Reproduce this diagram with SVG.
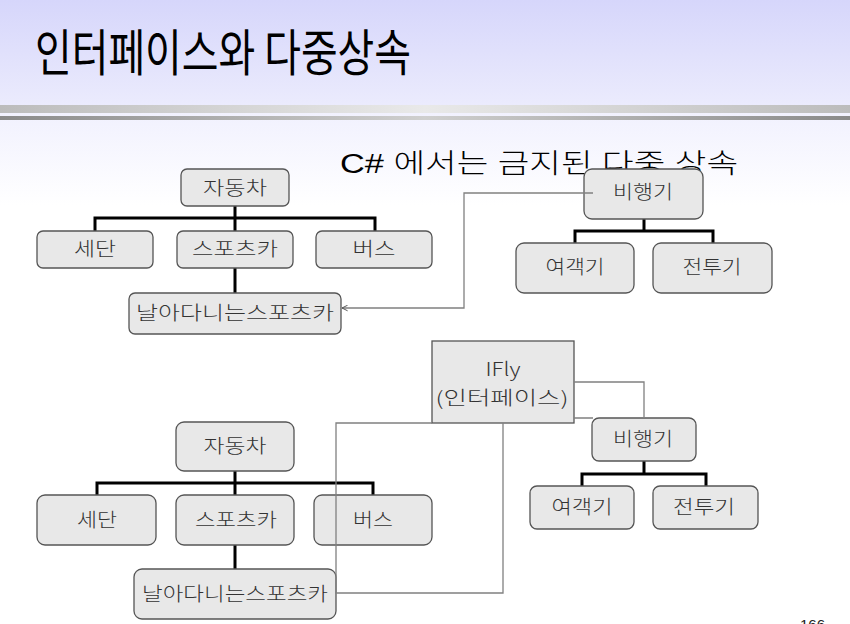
<svg xmlns="http://www.w3.org/2000/svg" width="850" height="624" viewBox="0 0 850 624">
<defs>
<linearGradient id="bgTop" x1="0" y1="0" x2="0" y2="1">
<stop offset="0" stop-color="#d6d6fb"/>
<stop offset="1" stop-color="#ebebfd"/>
</linearGradient>
<linearGradient id="bgLow" x1="0" y1="0" x2="0" y2="1">
<stop offset="0" stop-color="#f0f0fe"/>
<stop offset="1" stop-color="#ffffff"/>
</linearGradient>
<linearGradient id="bar1" x1="0" y1="0" x2="1" y2="0">
<stop offset="0" stop-color="#bcbcbc"/>
<stop offset="0.5" stop-color="#e9e9e9"/>
<stop offset="1" stop-color="#bcbcbc"/>
</linearGradient>
<linearGradient id="bar2" x1="0" y1="0" x2="1" y2="0">
<stop offset="0" stop-color="#8a8a8a"/>
<stop offset="0.5" stop-color="#cfcfcf"/>
<stop offset="1" stop-color="#8a8a8a"/>
</linearGradient>
<marker id="arr" viewBox="0 0 10 10" refX="9" refY="5" markerWidth="7" markerHeight="7" orient="auto" markerUnits="userSpaceOnUse">
<path d="M1 1 L9 5 L1 9" fill="none" stroke="#555" stroke-width="1.4"/>
</marker>
<style>
.box{fill:#e8e8e8;stroke:#555;stroke-width:1.3}
.lbl{font-family:"Noto Sans CJK KR","Noto Sans",sans-serif;font-size:19px;font-weight:300;fill:#333;text-anchor:middle}
.tree{fill:none;stroke:#000;stroke-width:3}
.thin{fill:none;stroke:#808080;stroke-width:1.3}
</style>
</defs>
<rect x="0" y="0" width="850" height="105" fill="url(#bgTop)"/>
<rect x="0" y="105" width="850" height="100" fill="url(#bgLow)"/>
<rect x="0" y="105" width="850" height="8" fill="url(#bar1)"/>
<rect x="0" y="116" width="850" height="4" fill="url(#bar2)"/>
<text x="35" y="71" font-family="'Noto Sans CJK KR','Noto Sans',sans-serif" font-size="50" fill="#000" textLength="376" lengthAdjust="spacingAndGlyphs">인터페이스와 다중상속</text>
<text x="340" y="173" font-family="'Liberation Sans','Noto Sans CJK KR',sans-serif" font-size="27" font-weight="300" fill="#000" textLength="398" lengthAdjust="spacingAndGlyphs">C# 에서는 금지된 다중 상속</text>
<text x="800" y="630" font-family="'Liberation Sans',sans-serif" font-size="15" fill="#222">166</text>

<g id="connectors">
<path class="tree" d="M235 206V218M95 231V218H375V231M235 218V231M235 268V293"/>
<path class="tree" d="M644 219V231M575 243V231H713V243"/>
<path class="tree" d="M235 471V483M97 495V483H373V495M235 483V495M235 545V569"/>
<path class="tree" d="M644 461V474M582 486V474H706V486"/>
</g>

<g id="top-car"><rect class="box" x="181" y="169" width="108" height="37" rx="6"/><text class="lbl" x="235" y="195" textLength="64" lengthAdjust="spacingAndGlyphs">자동차</text></g>
<g id="top-sedan"><rect class="box" x="37" y="231" width="116" height="37" rx="6"/><text class="lbl" x="95" y="256" textLength="42" lengthAdjust="spacingAndGlyphs">세단</text></g>
<g id="top-sports"><rect class="box" x="177" y="231" width="116" height="37" rx="6"/><text class="lbl" x="235" y="256" textLength="86" lengthAdjust="spacingAndGlyphs">스포츠카</text></g>
<g id="top-bus"><rect class="box" x="316" y="231" width="116" height="37" rx="6"/><text class="lbl" x="374" y="256" textLength="43" lengthAdjust="spacingAndGlyphs">버스</text></g>
<g id="top-flycar"><rect class="box" x="129" y="293" width="212" height="41" rx="6"/><text class="lbl" x="235" y="320" textLength="198" lengthAdjust="spacingAndGlyphs">날아다니는스포츠카</text></g>
<g id="top-plane"><rect class="box" x="584" y="169" width="119" height="50" rx="8"/><text class="lbl" x="643" y="199" textLength="60" lengthAdjust="spacingAndGlyphs">비행기</text></g>
<g id="top-passenger"><rect class="box" x="516" y="243" width="118" height="50" rx="8"/><text class="lbl" x="575" y="274" textLength="59" lengthAdjust="spacingAndGlyphs">여객기</text></g>
<g id="top-fighter"><rect class="box" x="653" y="243" width="119" height="50" rx="8"/><text class="lbl" x="712" y="274" textLength="59" lengthAdjust="spacingAndGlyphs">전투기</text></g>

<g id="bot-car"><rect class="box" x="176" y="422" width="118" height="49" rx="8"/><text class="lbl" x="235" y="453" textLength="63" lengthAdjust="spacingAndGlyphs">자동차</text></g>
<g id="bot-sedan"><rect class="box" x="37" y="495" width="119" height="50" rx="8"/><text class="lbl" x="97" y="527" textLength="40" lengthAdjust="spacingAndGlyphs">세단</text></g>
<g id="bot-sports"><rect class="box" x="176" y="495" width="118" height="50" rx="8"/><text class="lbl" x="236" y="527" textLength="82" lengthAdjust="spacingAndGlyphs">스포츠카</text></g>
<g id="bot-bus"><rect class="box" x="314" y="495" width="118" height="50" rx="8"/><text class="lbl" x="373" y="527" textLength="40" lengthAdjust="spacingAndGlyphs">버스</text></g>
<g id="bot-flycar"><rect class="box" x="134" y="569" width="202" height="50" rx="8"/><text class="lbl" x="235" y="601" textLength="186" lengthAdjust="spacingAndGlyphs">날아다니는스포츠카</text></g>
<g id="ifly"><rect class="box" x="432" y="341" width="142" height="82"/><text class="lbl" x="503" y="376" font-family="'Liberation Sans',sans-serif" font-size="20" textLength="35" lengthAdjust="spacingAndGlyphs">IFly</text><text class="lbl" x="502" y="405" font-size="20" textLength="133" lengthAdjust="spacingAndGlyphs">(인터페이스)</text></g>
<g id="bot-plane"><rect class="box" x="592" y="418" width="104" height="43" rx="7"/><text class="lbl" x="643" y="446" textLength="60" lengthAdjust="spacingAndGlyphs">비행기</text></g>
<g id="bot-passenger"><rect class="box" x="530" y="486" width="104" height="43" rx="7"/><text class="lbl" x="582" y="514" textLength="61" lengthAdjust="spacingAndGlyphs">여객기</text></g>
<g id="bot-fighter"><rect class="box" x="653" y="486" width="105" height="43" rx="7"/><text class="lbl" x="704" y="514" textLength="62" lengthAdjust="spacingAndGlyphs">전투기</text></g>

<g id="thin-connectors">
<path class="thin" d="M593 193H464V308H342" marker-end="url(#arr)"/>
<path class="thin" d="M432 423H336V593H503V423"/>
<path class="thin" d="M574 382H644V418M574 418H593"/>
</g>
</svg>
